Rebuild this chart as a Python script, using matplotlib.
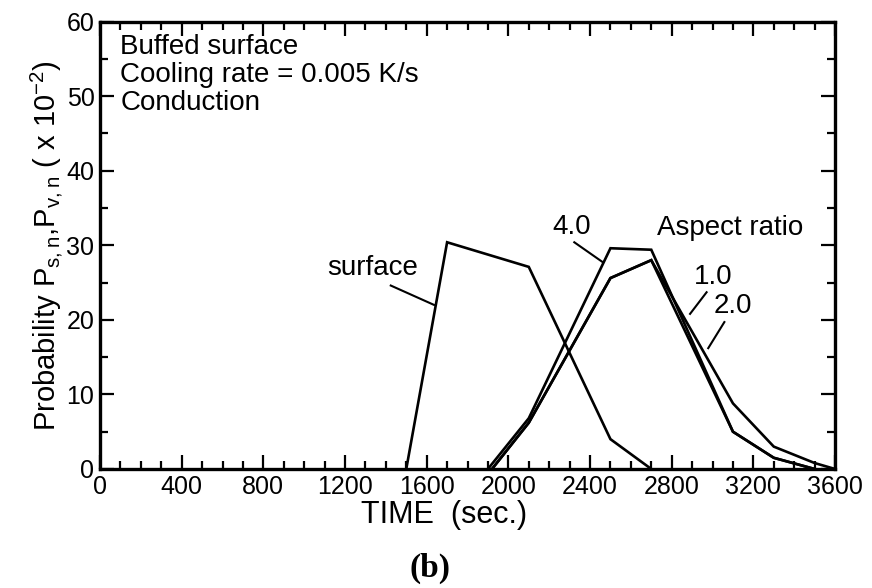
import matplotlib
matplotlib.use("Agg")
import matplotlib.pyplot as plt
from matplotlib.ticker import MultipleLocator

surf_t = [1500, 1700, 2100, 2500, 2700]
surf_p = [0, 30.4, 27.1, 4.0, 0]

ar4_t = [1900, 2100, 2500, 2700, 3100, 3300, 3500]
ar4_p = [0, 6.8, 29.6, 29.4, 5.0, 1.5, 0]

ar1_t = [1920, 2100, 2500, 2700, 3100, 3300, 3500]
ar1_p = [0, 6.2, 25.6, 28.0, 5.0, 1.5, 0]

ar2_t = [1920, 2100, 2500, 2700, 3100, 3300, 3500, 3600]
ar2_p = [0, 6.2, 25.6, 28.0, 8.8, 3.0, 0.8, 0]

xticks = list(range(0, 3601, 400))
yticks = list(range(0, 61, 10))

plt.rcParams['font.family'] = ['Liberation Sans', 'DejaVu Sans']
plt.rcParams['mathtext.fontset'] = 'custom'
plt.rcParams['mathtext.rm'] = 'Liberation Sans'
lw = 1.9
fs = 20

fig = plt.figure(figsize=(8.72, 5.88), dpi=100)
ax = fig.add_axes([0.1147, 0.2024, 0.8429, 0.761])

for t, p in [(surf_t, surf_p), (ar4_t, ar4_p), (ar1_t, ar1_p), (ar2_t, ar2_p)]:
    ax.plot(t, p, color='black', lw=lw, solid_joinstyle='miter')

ax.set_xlim(0, 3600)
ax.set_ylim(0, 60)
ax.set_xticks(xticks)
ax.set_yticks(yticks)
ax.xaxis.set_minor_locator(MultipleLocator(100))
ax.yaxis.set_minor_locator(MultipleLocator(5))
ax.tick_params(which='both', direction='in', top=True, right=True, width=1.6,
               labelsize=18, pad=4)
ax.tick_params(which='major', length=10)
ax.tick_params(which='minor', length=5.5)
for s in ax.spines.values():
    s.set_linewidth(2.4)

ax.set_ylabel(r"Probability P$_{\mathregular{s,n}}$,P$_{\mathregular{v,n}}$ ( x 10$^{\mathregular{-2}}$)",
              fontsize=21, labelpad=1)
fig.text(0.509, 0.125, "TIME  (sec.)", fontsize=22, ha='center', va='center')
fig.text(0.493, 0.033, "(b)", fontsize=24, fontweight='bold', family='Liberation Serif',
         ha='center', va='center')

ax.text(100, 58.3, "Buffed surface\nCooling rate = 0.005 K/s\nConduction", fontsize=fs,
        va='top', ha='left', linespacing=1.1)

ax.text(1336, 27.0, "surface", fontsize=fs, ha='center', va='center')
ax.plot([1424, 1636], [24.6, 22.0], color='black', lw=1.5)

ax.text(2308, 32.4, "4.0", fontsize=fs, ha='center', va='center')
ax.plot([2323, 2464], [30.4, 27.7], color='black', lw=1.5)

ax.text(2726, 32.3, "Aspect ratio", fontsize=fs, ha='left', va='center')

ax.text(3004, 25.7, "1.0", fontsize=fs, ha='center', va='center')
ax.plot([2971, 2890], [23.7, 20.8], color='black', lw=1.5)

ax.text(3102, 21.8, "2.0", fontsize=fs, ha='center', va='center')
ax.plot([3058, 2979], [19.7, 16.2], color='black', lw=1.5)

fig.savefig("out.png", dpi=100)
